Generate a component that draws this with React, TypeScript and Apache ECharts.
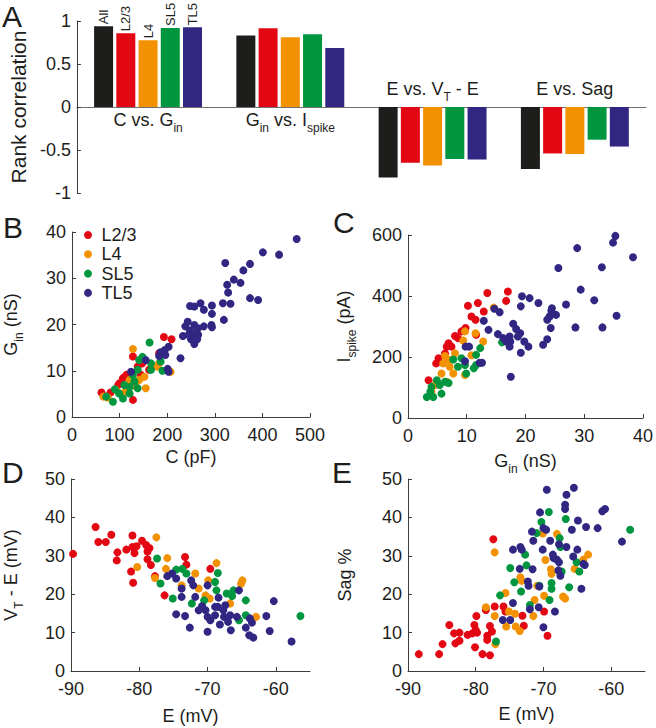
import React, { useEffect, useRef } from 'react';
import * as echarts from 'echarts';

const FONT = "'Liberation Sans', Arial, Helvetica, sans-serif";
const INK = '#1d1d1b';
const AXIS = '#3c3c3b';
const ZERO = '#707070';

const barNames = ['All', 'L2/3', 'L4', 'SL5', 'TL5'];
const layerNames = ['L2/3', 'L4', 'SL5', 'TL5'];
const barColors = ['#1d1d1b', '#e30613', '#f39200', '#009640', '#312783'];
const layerColors = ['#e30613', '#f39200', '#009640', '#312783'];

const comparisons = ['C vs. Gin', 'Gin vs. Ispike', 'E vs. VT - E', 'E vs. Sag'];
const comparisonLabels = ['{m|C vs. G}{s|in}', '{m|G}{s|in}{m| vs. I}{s|spike}', '{m|E vs. V}{s|T}{m| - E}', '{m|E vs. Sag}'];
const comparisonAbove = [false, false, true, true];

const rankAll = [0.94, 0.83, -0.82, -0.72];
const rankL23 = [0.857, 0.915, -0.647, -0.54];
const rankL4 = [0.775, 0.81, -0.68, -0.547];
const rankSL5 = [0.92, 0.845, -0.605, -0.38];
const rankTL5 = [0.926, 0.686, -0.61, -0.46];

// Panel B: C (pF) vs Gin (nS)
const bL23 = [[193,17.3],[209,16.8],[128,13.1],[183,13.8],[148,11.6],[138,10.9],[114,9.1],[107,8.4],[100,7.3],[97,6.9],[128,3.7],[62,5.3],[81,5.3],[162,10.2],[145,9.1]];
const bL4 = [[128,14.7],[179,10.9],[207,9.8],[155,6.2],[66,4.4],[93,5.8],[121,8],[141,8],[134,6.6],[107,5.1],[152,8.7],[183,11.6],[75,4.2],[115,6]];
const bSL5 = [[163,16.1],[141,12.3],[166,11.6],[186,12],[190,10],[166,10.2],[138,10.2],[128,9.1],[131,7.7],[138,6.2],[110,6.9],[90,6],[72,4.4],[86,3.3],[107,4],[121,5.1],[99,5.1],[148,13],[121,6.5]];
const bTL5 = [[472,38.5],[401,35.6],[435,35.1],[322,33.3],[374,33.1],[360,31.7],[340,29.7],[354,29],[326,28.6],[328,26.9],[374,25.7],[391,25.3],[317,24.6],[333,24.5],[270,24.6],[248,24],[257,23.9],[294,24.1],[277,23.2],[294,22.3],[319,21],[243,20.6],[238,19.6],[257,19.9],[277,19.6],[293,19.9],[294,19.4],[265,19.2],[248,18.7],[233,17.5],[245,17.8],[256,18.1],[265,17.8],[250,16.8],[263,16.8],[257,15.8],[203,15.2],[195,14.5],[196,13.4],[183,13.2],[228,12.7],[155,12.3],[201,10.4],[203,9.8],[124,9.8],[186,14]];

// Panel C: Gin (nS) vs Ispike (pA)
const cL23 = [[13.5,410],[17,415],[16.7,384],[10.2,368],[11.9,377],[12.9,349],[10.8,333],[11.5,322],[9.8,295],[9.1,284],[8,269],[8.5,262],[6.9,245],[6.6,234],[7.4,234],[6.3,212],[5.2,196],[4.8,179],[3.5,124],[11.6,273]];
const cL4 = [[14.6,362],[9.7,284],[11.5,278],[12.8,251],[9.4,254],[8,212],[6.3,203],[6.9,192],[6,179],[7.1,168],[7.7,146],[5.7,146],[6.6,119],[9.7,141],[4.6,108],[4,86],[10.8,206]];
const cSL5 = [[12.3,229],[16,248],[11.6,207],[11.6,174],[11.2,163],[9.1,196],[7.7,192],[8.5,168],[9.9,146],[9.7,174],[6.3,119],[4.9,124],[5.4,108],[4,102],[3.8,86],[3.2,69],[4.3,69],[5.7,80],[6.9,115]];
const cTL5 = [[35.3,597],[34.9,575],[28.8,557],[38.3,527],[25.6,492],[33,494],[29.4,421],[31.7,386],[19.4,399],[20.7,393],[22.2,377],[26.9,372],[19.2,366],[24.5,360],[24.4,352],[25.2,338],[24.1,333],[23.7,322],[35.5,335],[28.5,297],[33.1,297],[14.7,358],[15.6,347],[12.9,319],[13.7,289],[15.3,275],[17.9,309],[18.4,292],[19.1,278],[18.7,267],[17.3,267],[17.4,251],[16.2,262],[19.8,251],[20.5,234],[17.3,234],[19.2,214],[24.3,295],[23.7,258],[23,240],[17.5,135],[9.8,234],[10.4,234],[9.7,186],[12.2,181],[12.6,181],[16.7,251]];

// Panel D: E (mV) vs VT - E (mV)
const dL23 = [[-89.7,30.5],[-86.4,37.5],[-86,33.6],[-84.9,33.6],[-84.1,35.5],[-83.2,30.9],[-83.3,28.8],[-81.9,31.6],[-81,35.3],[-81,32.3],[-80.7,30.7],[-80.4,32.5],[-79.6,33.9],[-79,32.8],[-78.8,31.1],[-78.5,32],[-81.2,25.9],[-80.9,23],[-78.3,27.6],[-76.3,19.7],[-77.7,24.7],[-73.3,29.7],[-73.1,27.7],[-69.6,26.6],[-78.8,29.1]];
const dL4 = [[-77.5,34.8],[-80.3,27.1],[-75.9,29.4],[-76.1,26.6],[-77.7,24.2],[-71.8,25.4],[-71.3,21.5],[-70.3,19.7],[-69.7,18.9],[-68.7,28.1],[-69.9,23.6],[-64.9,23.6],[-65.1,22.7],[-66.7,17.6],[-62.9,14.1],[-73.8,22.3]];
const dSL5 = [[-77.4,29.3],[-76.9,22.8],[-74.6,26.4],[-73.7,26.6],[-75.1,18.9],[-72.3,17.6],[-70.5,18.4],[-68.5,25.5],[-68.9,23.2],[-68.7,21],[-67.2,20.2],[-66.2,21],[-66.4,19.5],[-64.4,18.4],[-64.4,14.5],[-65.4,13.2],[-56.4,14.3],[-73.1,25.4],[-70.8,16.8]];
const dTL5 = [[-74.6,14.8],[-73.3,14.3],[-72.6,11.3],[-70,10.2],[-75.9,24.7],[-75.2,25.4],[-74.6,24.1],[-73.8,21.5],[-73.8,19.3],[-72.4,23.6],[-72.1,22.3],[-71.8,19.3],[-71.3,15.8],[-70.8,16.9],[-70,22.3],[-70.3,15.8],[-70,14.1],[-69.6,13.2],[-68.9,14.5],[-68.5,16.7],[-68.4,19.1],[-68.2,12.1],[-67.7,15.8],[-67.6,14.1],[-67.4,17.1],[-67,12.8],[-66.7,14.5],[-66.6,10.6],[-65.7,14.1],[-65.4,21],[-63.9,9.3],[-64.4,11.3],[-63.8,13.7],[-63.5,12.6],[-63.3,8.7],[-61.4,14.3],[-60.9,10.4],[-60.3,18.2],[-57.7,7.7],[-68.9,16.7]];

// Panel E: E (mV) vs Sag %
const eL23 = [[-88.4,4.4],[-85.4,4.4],[-84.9,7],[-83.9,12],[-83.2,9.8],[-83,7.2],[-82.4,7.9],[-82.4,10],[-81.2,9.4],[-80.5,9.8],[-80.2,12],[-80,10.7],[-79.8,10],[-80.1,6.2],[-79.9,14.3],[-79,4.4],[-77.9,4.1],[-78.5,15.9],[-78.3,9.2],[-78.3,8.1],[-77.9,11.7],[-77.6,10.3],[-77.4,34.3],[-77.2,16.8],[-75.9,16.8],[-75.6,15.5],[-73.1,14.4],[-72.9,11.8],[-69.9,15.5],[-69.4,9.2]];
const eL4 = [[-77.2,30.9],[-78.5,16.6],[-77.2,14.3],[-77.1,7],[-75.6,20.3],[-75.5,11.6],[-75.1,15.5],[-74.2,14.9],[-74.1,11.6],[-73.5,10.4],[-73.4,24.4],[-73.2,23.5],[-71.5,14.3],[-71.3,18.5],[-70.9,22.2],[-70.1,35.8],[-69.9,19.6],[-69.7,28.9],[-68.9,26.5],[-68.8,25.3],[-68,35.7],[-67.1,19.4],[-66.8,18.9],[-65.4,26.6],[-63.4,30.3],[-64.1,29]];
const eSL5 = [[-77,7.7],[-76.4,19.7],[-74.9,26.8],[-74.3,23.1],[-73.3,20.7],[-72.7,30.3],[-72.5,27.5],[-72,17.2],[-70.6,22.2],[-70.3,38.8],[-71,35.9],[-69.2,41.4],[-69.1,18.5],[-68.8,22.9],[-68.8,21.4],[-67.6,34.6],[-67.5,32.3],[-66.7,39.6],[-66.2,21.8],[-65.1,28.3],[-64.7,25.9],[-57.2,36.8],[-67.3,25.9]];
const eTL5 = [[-69.5,47.2],[-65.5,47.7],[-66.6,45.9],[-66.8,43.3],[-66.8,42.2],[-70.5,41.3],[-60.9,42.2],[-61.3,41.6],[-64.9,39.2],[-70,37.2],[-69.6,36.8],[-71.7,36.3],[-71.5,33.9],[-69,33.9],[-63.7,37.5],[-62,37.2],[-65.8,36.8],[-58.4,33.7],[-67.7,33],[-66.6,32.3],[-74.5,31.6],[-73.4,32.3],[-73.2,31.6],[-70.1,31.6],[-68.6,30.3],[-68.5,29.4],[-68,29],[-67.7,28.3],[-65.6,29.8],[-65,31.6],[-63.9,27.6],[-64.1,27.9],[-73.5,26.6],[-71.6,26.5],[-67.8,26.2],[-67.5,24.8],[-72.3,23.3],[-72.2,22.2],[-70.6,22],[-74.5,17.7],[-72,16.1],[-70.7,16.6],[-74.9,13.3],[-76,13.3],[-68.3,15.5],[-70,11.4],[-64.4,21.4]];

const xTicksE = [-90, -80, -70, -60];

const rich = {
  m: { fontSize: 18, fontFamily: FONT, color: INK, lineHeight: 22, verticalAlign: 'top' },
  s: { fontSize: 12, fontFamily: FONT, color: INK, lineHeight: 12, padding: [12, 0, 0, 0] },
};

function valueAxis(extra: any) {
  return {
    type: 'value',
    axisLine: { show: true, onZero: false, lineStyle: { color: AXIS, width: 1 } },
    axisTick: { show: true, inside: true, length: 4, lineStyle: { color: AXIS, width: 1 } },
    splitLine: { show: false },
    nameLocation: 'middle',
    nameTextStyle: { rich, fontFamily: FONT, fontSize: 18, color: INK },
    ...extra,
    axisLabel: { color: INK, fontSize: 18, fontFamily: FONT, ...(extra.axisLabel || {}) },
  };
}

export default function App() {
  const ref = useRef<HTMLDivElement>(null);
  useEffect(() => {
    document.body.style.margin = '0';
    const chart = echarts.init(ref.current!, null, { renderer: 'svg' });
    const rankSeries = [rankAll, rankL23, rankL4, rankSL5, rankTL5];
    const barSeries = barNames.map((name, k) => ({
      type: 'bar',
      name,
      xAxisIndex: 0,
      yAxisIndex: 0,
      barWidth: 19,
      barGap: '17%',
      itemStyle: { color: barColors[k] },
      label: {
        show: false,
        position: 'top',
        rotate: 90,
        align: 'left',
        verticalAlign: 'middle',
        distance: 2,
        formatter: name,
        fontSize: 13,
        fontFamily: FONT,
        color: INK,
      },
      data: rankSeries[k].map((v, i) => (i === 0 ? { value: v, label: { show: true } } : v)),
    }));
    const scatterSets = [
      [bL23, bL4, bSL5, bTL5],
      [cL23, cL4, cSL5, cTL5],
      [dL23, dL4, dSL5, dTL5],
      [eL23, eL4, eSL5, eTL5],
    ];
    const scatterSeries: any[] = [];
    scatterSets.forEach((sets, g) => {
      sets.forEach((data, k) => {
        scatterSeries.push({
          type: 'scatter',
          name: layerNames[k],
          xAxisIndex: g + 1,
          yAxisIndex: g + 1,
          symbol: 'circle',
          symbolSize: 8,
          itemStyle: { color: layerColors[k], opacity: 1 },
          data,
        });
      });
    });

    const option: any = {
      animation: false,
      backgroundColor: '#ffffff',
      textStyle: { fontFamily: FONT },
      grid: [
        { left: 69, top: 21, width: 577, height: 172 },
        { left: 68, top: 232, width: 242, height: 185 },
        { left: 408, top: 235, width: 237, height: 183 },
        { left: 69, top: 479, width: 241, height: 192 },
        { left: 408, top: 479, width: 237, height: 192 },
      ],
      legend: {
        data: layerNames,
        orient: 'vertical',
        left: 84,
        top: 226,
        padding: 0,
        icon: 'circle',
        itemWidth: 17,
        itemHeight: 8,
        itemGap: 1.3,
        selectedMode: false,
        textStyle: { fontSize: 18, fontFamily: FONT, color: INK, lineHeight: 18 },
      },
      xAxis: [
        {
          type: 'category',
          gridIndex: 0,
          data: comparisons,
          boundaryGap: true,
          axisLine: { show: true, onZero: true, lineStyle: { color: ZERO, width: 1.2 } },
          axisTick: { show: false },
          axisLabel: { show: false },
          splitLine: { show: false },
        },
        valueAxis({ gridIndex: 1, min: 0, max: 500, interval: 100, name: '{m|C (pF)}', nameGap: 31, axisLabel: { margin: 9 } }),
        valueAxis({ gridIndex: 2, min: 0, max: 40, interval: 10, name: '{m|G}{s|in}{m| (nS)}', nameGap: 34, axisLabel: { margin: 9 } }),
        valueAxis({ gridIndex: 3, min: -90, max: -55, name: '{m|E (mV)}', nameGap: 36, axisLabel: { margin: 9, customValues: xTicksE }, axisTick: { show: true, inside: true, length: 4, customValues: xTicksE, lineStyle: { color: AXIS } } }),
        valueAxis({ gridIndex: 4, min: -90, max: -55, name: '{m|E (mV)}', nameGap: 34, axisLabel: { margin: 9, customValues: xTicksE }, axisTick: { show: true, inside: true, length: 4, customValues: xTicksE, lineStyle: { color: AXIS } } }),
      ],
      yAxis: [
        valueAxis({ gridIndex: 0, min: -1, max: 1, interval: 0.5, name: 'Rank correlation', nameGap: 36, nameTextStyle: { fontSize: 21, fontFamily: FONT, color: INK }, axisLabel: { margin: 6 } }),
        valueAxis({ gridIndex: 1, min: 0, max: 40, interval: 10, name: '{m|G}{s|in}{m| (nS)}', nameGap: 48, axisLabel: { margin: 6 } }),
        valueAxis({ gridIndex: 2, min: 0, max: 600, interval: 200, name: '{m|I}{s|spike}{m| (pA)}', nameGap: 51, axisLabel: { margin: 6 } }),
        valueAxis({ gridIndex: 3, min: 0, max: 50, interval: 10, name: '{m|V}{s|T}{m| - E (mV)}', nameGap: 47, axisLabel: { margin: 6 } }),
        valueAxis({ gridIndex: 4, min: 0, max: 50, interval: 10, name: '{m|Sag %}', nameGap: 50, axisLabel: { margin: 6 } }),
      ],
      series: [...barSeries, ...scatterSeries],
    };
    chart.setOption(option);

    const zeroY = chart.convertToPixel({ yAxisIndex: 0 }, 0) as number;
    const catLabels = comparisons.map((c, i) => {
      const x = chart.convertToPixel({ xAxisIndex: 0 }, c) as number;
      return {
        type: 'text',
        x,
        y: comparisonAbove[i] ? zeroY - 16 : zeroY + 15,
        style: {
          text: comparisonLabels[i],
          rich,
          fill: INK,
          align: 'center',
          verticalAlign: 'middle',
          textAlign: 'center',
          textVerticalAlign: 'middle',
        },
      };
    });
    const letters = [
      { t: 'A', x: 2, y: 16 },
      { t: 'B', x: 3, y: 227 },
      { t: 'C', x: 333, y: 222 },
      { t: 'D', x: 2, y: 472 },
      { t: 'E', x: 332, y: 472 },
    ].map((l) => ({
      type: 'text',
      x: l.x,
      y: l.y,
      style: {
        text: l.t,
        fill: INK,
        font: `30px ${FONT}`,
        align: 'left',
        verticalAlign: 'middle',
        textAlign: 'left',
        textVerticalAlign: 'middle',
      },
    }));
    chart.setOption({ graphic: [...letters, ...catLabels] });

    return () => chart.dispose();
  }, []);
  return <div ref={ref} style={{ width: 656, height: 728 }} />;
}
